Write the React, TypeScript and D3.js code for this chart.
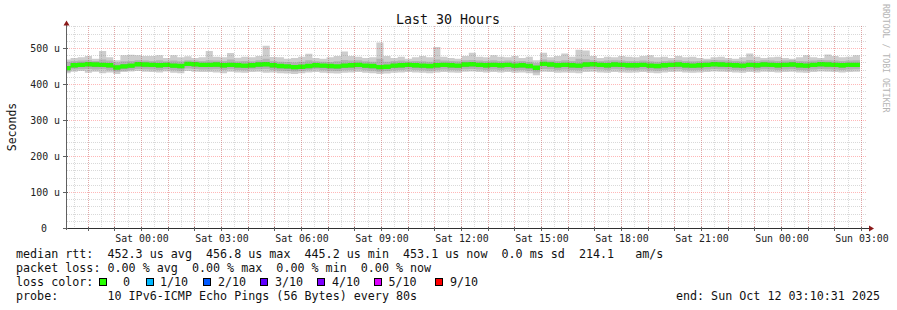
import React from 'react';
import * as d3 from 'd3';

const W = 897;
const H = 310;

// ---- data (microseconds), one value per 16-minute bin ----
const MEDIAN = [
  444, 452, 453, 455, 454, 453, 452, 446, 449, 451, 455, 454, 453, 452, 453, 451, 450, 456, 455, 453,
  453, 454, 452, 453, 452, 451, 452, 454, 455, 452, 450, 449, 447, 448, 450, 452, 451, 450, 449, 451,
  452, 453, 451, 450, 447, 448, 451, 452, 453, 452, 451, 450, 452, 453, 452, 451, 454, 455, 453, 452,
  453, 452, 453, 451, 452, 450, 445, 456, 454, 452, 453, 452, 451, 454, 455, 453, 452, 454, 453, 452,
  452, 453, 451, 450, 452, 453, 454, 452, 451, 452, 453, 455, 454, 453, 452, 451, 453, 452, 454, 453,
  452, 453, 454, 452, 451, 453, 455, 454, 453, 452, 453, 453,
];
const SMOKE_MAX = [
  468, 472, 474, 478, 470, 492, 474, 466, 480, 481, 480, 478, 478, 480, 472, 480, 474, 477, 472, 474,
  492, 476, 474, 486, 473, 476, 474, 478, 506, 475, 474, 470, 472, 476, 484, 472, 470, 474, 478, 490,
  478, 476, 472, 474, 515, 478, 472, 476, 470, 474, 478, 474, 503, 476, 472, 470, 478, 487, 476, 474,
  480, 476, 474, 478, 472, 476, 466, 487, 474, 478, 485, 476, 495, 493, 478, 472, 476, 474, 478, 476,
  474, 478, 480, 474, 476, 472, 478, 474, 476, 472, 470, 474, 476, 472, 470, 474, 485, 476, 472, 474,
  476, 472, 470, 474, 480, 474, 472, 482, 478, 474, 476, 480,
];
const SMOKE_HI = [
  462, 464, 465, 466, 464, 468, 465, 460, 463, 464, 466, 465, 464, 466, 463, 465, 463, 466, 465, 464,
  466, 465, 464, 468, 463, 464, 463, 466, 470, 464, 462, 461, 460, 462, 466, 463, 462, 461, 463, 467,
  465, 466, 463, 462, 470, 462, 464, 465, 463, 464, 463, 462, 468, 465, 464, 463, 466, 467, 465, 464,
  466, 464, 465, 463, 464, 462, 458, 468, 465, 464, 466, 464, 470, 469, 466, 464, 465, 466, 465, 464,
  464, 465, 463, 462, 464, 465, 466, 464, 463, 464, 465, 467, 466, 465, 464, 463, 467, 464, 466, 465,
  464, 465, 466, 464, 463, 465, 467, 466, 465, 464, 465, 466,
];
const INNER_HI = [
  449, 457, 459, 460, 457, 458, 456, 451, 454, 455, 460, 458, 457, 456, 458, 456, 454, 460, 459, 457,
  458, 459, 456, 458, 456, 455, 457, 459, 460, 457, 455, 453, 452, 453, 455, 457, 455, 454, 453, 456,
  457, 458, 455, 454, 452, 453, 456, 457, 458, 456, 455, 455, 457, 458, 457, 455, 459, 460, 458, 457,
  458, 457, 458, 456, 457, 455, 450, 461, 459, 457, 458, 456, 456, 459, 460, 458, 457, 459, 458, 456,
  457, 458, 456, 455, 457, 458, 459, 457, 456, 457, 458, 460, 459, 458, 457, 456, 458, 457, 459, 458,
  457, 458, 459, 457, 456, 458, 460, 459, 458, 457, 458, 458,
];
const INNER_LO = [
  439, 446, 448, 449, 447, 448, 446, 441, 443, 445, 449, 448, 447, 446, 448, 445, 444, 450, 449, 447,
  447, 448, 446, 448, 446, 445, 446, 448, 449, 446, 444, 443, 441, 442, 444, 446, 445, 444, 443, 445,
  446, 447, 445, 444, 441, 442, 445, 446, 447, 446, 445, 444, 446, 447, 446, 445, 448, 449, 447, 446,
  447, 446, 447, 445, 446, 444, 439, 450, 448, 446, 447, 446, 445, 448, 449, 447, 446, 448, 447, 446,
  446, 447, 445, 444, 446, 447, 448, 446, 445, 446, 447, 449, 448, 447, 446, 445, 447, 446, 448, 447,
  446, 447, 448, 446, 445, 447, 449, 448, 447, 446, 447, 447,
];
const SMOKE_LO = [
  434, 440, 441, 442, 440, 441, 438, 434, 437, 439, 442, 441, 440, 439, 441, 438, 437, 443, 442, 440,
  440, 441, 439, 441, 439, 438, 440, 441, 442, 439, 437, 436, 435, 436, 438, 440, 438, 437, 436, 438,
  439, 440, 438, 437, 434, 436, 438, 439, 440, 439, 438, 437, 439, 440, 439, 438, 441, 442, 440, 439,
  440, 439, 440, 438, 439, 437, 432, 442, 441, 439, 440, 439, 438, 441, 442, 440, 439, 441, 440, 439,
  439, 440, 438, 437, 439, 440, 441, 439, 438, 439, 440, 442, 441, 440, 439, 438, 440, 439, 441, 440,
  439, 440, 441, 439, 438, 440, 442, 441, 440, 439, 440, 441,
];
const SMOKE_MIN = [
  430, 434, 436, 431, 434, 430, 432, 428, 433, 435, 436, 434, 433, 432, 435, 431, 430, 436, 434, 433,
  433, 432, 430, 434, 432, 431, 433, 434, 431, 432, 430, 429, 428, 430, 432, 433, 431, 430, 429, 431,
  432, 433, 431, 430, 428, 429, 431, 432, 433, 432, 431, 430, 432, 433, 432, 431, 434, 435, 433, 432,
  433, 432, 433, 431, 432, 430, 424, 434, 433, 431, 432, 431, 430, 433, 434, 432, 431, 433, 432, 431,
  432, 433, 431, 430, 432, 433, 434, 432, 431, 432, 433, 435, 434, 433, 432, 431, 433, 432, 434, 433,
  432, 433, 434, 432, 431, 433, 435, 434, 433, 432, 433, 434,
];

const Y_LABELS = [0, 100, 200, 300, 400, 500];
const LEGEND_RTT = 'median rtt:  452.3 us avg  456.8 us max  445.2 us min  453.1 us now  0.0 ms sd  214.1   am/s';
const LEGEND_LOSS = 'packet loss: 0.00 % avg  0.00 % max  0.00 % min  0.00 % now';
const LOSS_LABELS = ['0', '1/10', '2/10', '3/10', '4/10', '5/10', '9/10'];
const LOSS_COLORS = ['#26ff00', '#00b8ff', '#0059ff', '#5e00ff', '#7e00ff', '#dd00ff', '#ff0000'];
const PROBE = 'probe:       10 IPv6-ICMP Echo Pings (56 Bytes) every 80s';
const END_TEXT = 'end: Sun Oct 12 03:10:31 2025';
const TITLE = 'Last 30 Hours';

// time axis
const BIN_MS = 960 * 1000;
const DATA_START = Date.UTC(2025, 9, 10, 21, 5, 37);
const X_START = Date.UTC(2025, 9, 10, 21, 13, 30);
const X_END = Date.UTC(2025, 9, 12, 3, 13, 30);

const PL = 67, PR = 867, PB = 228;
const FONT = "'DejaVu Sans Mono', monospace";

export default function App() {
  const x = d3.scaleUtc().domain([X_START, X_END]).range([PL, PR]);
  const y = d3.scaleLinear().domain([0, 560]).range([PB, PB - 560 * 0.36]);
  const PT = y(560);

  const n = MEDIAN.length;
  const idx = d3.range(n + 1);
  const tAt = (i: number) => DATA_START + i * BIN_MS;
  const v = (arr: number[], i: number) => arr[Math.min(i, n - 1)];
  const band = (lo: number[], hi: number[]) =>
    d3.area<number>().curve(d3.curveStepAfter)
      .x(i => x(tAt(i)))
      .y0(i => y(v(lo, i)))
      .y1(i => y(v(hi, i)))(idx) || '';
  const medBand = d3.area<number>().curve(d3.curveStepAfter)
    .x(i => x(tAt(i)))
    .y0(i => y(v(MEDIAN, i)) + 2.2)
    .y1(i => y(v(MEDIAN, i)) - 2.2)(idx) || '';

  const minorX = d3.utcMinute.every(30)!.range(new Date(X_START), new Date(X_END));
  const majorX = d3.utcHour.every(1)!.range(new Date(X_START), new Date(X_END));
  const labelX = d3.utcHour.every(3)!.range(new Date(X_START), new Date(X_END));
  const fmt = d3.utcFormat('%a %H:%M');
  const minorY = d3.range(20, 561, 20).filter(t => t % 100 !== 0);
  const majorY = d3.range(100, 561, 100);

  const boxX = [99, 145.5, 203, 260, 317, 374, 435];
  const labX = [123, 160, 218, 275, 332, 388.5, 450];

  return (
    <svg width={W} height={H} style={{ position: 'absolute', left: 0, top: 0, display: 'block', background: '#fff' }}>
      <defs>
        <clipPath id="plot"><rect x={PL} y={PT} width={PR - PL} height={PB - PT} /></clipPath>
      </defs>
      <rect x={0} y={0} width={W} height={H} fill="#fff" />
      <g clipPath="url(#plot)">
        <path d={band(SMOKE_MIN, SMOKE_MAX)} fill="#cdcdcd" />
        <path d={band(SMOKE_LO, SMOKE_HI)} fill="#b2b2b2" />
        <path d={band(INNER_LO, INNER_HI)} fill="#8c8c8c" />
        <path d={medBand} fill={LOSS_COLORS[0]} />
      </g>
      {/* grid */}
      <g shapeRendering="crispEdges" strokeDasharray="1,1">
        {minorX.map((d, i) => (
          <line key={'mx' + i} x1={Math.round(x(d)) + 0.5} x2={Math.round(x(d)) + 0.5} y1={PT} y2={PB} stroke="rgba(128,128,128,0.3)" />
        ))}
        {minorY.map((t, i) => (
          <line key={'my' + i} x1={PL} x2={PR} y1={Math.round(y(t)) + 0.5} y2={Math.round(y(t)) + 0.5} stroke="rgba(128,128,128,0.3)" />
        ))}
        {majorX.map((d, i) => (
          <line key={'Mx' + i} x1={Math.round(x(d)) + 0.5} x2={Math.round(x(d)) + 0.5} y1={PT} y2={PB} stroke="rgba(255,0,0,0.22)" />
        ))}
        {majorY.map((t, i) => (
          <line key={'My' + i} x1={PL} x2={PR} y1={Math.round(y(t)) + 0.5} y2={Math.round(y(t)) + 0.5} stroke="rgba(255,0,0,0.28)" />
        ))}
      </g>
      {/* axes */}
      <g shapeRendering="crispEdges">
        <line x1={PL - 0.5} x2={PL - 0.5} y1={PB + 2} y2={PT - 2} stroke="#606060" />
        <line x1={PL - 4} x2={870} y1={PB + 0.5} y2={PB + 0.5} stroke="#303030" />
        {majorX.map((d, i) => (
          <line key={'tk' + i} x1={Math.round(x(d)) + 0.5} x2={Math.round(x(d)) + 0.5} y1={PB - 1} y2={PB + 3} stroke="#606060" />
        ))}
        {Y_LABELS.map((t, i) => (
          <line key={'ty' + i} x1={PL - 4} x2={PL + 1} y1={Math.round(y(t)) + 0.5} y2={Math.round(y(t)) + 0.5} stroke="#606060" />
        ))}
      </g>
      <path d={`M${PL - 0.5 - 3},${PT - 1} L${PL - 0.5 + 3},${PT - 1} L${PL - 0.5},${PT - 6} Z`} fill="#8b1a1a" />
      <path d={`M869,${PB + 0.5 - 3} L869,${PB + 0.5 + 3} L874,${PB + 0.5} Z`} fill="#8b1a1a" />

      {/* axis labels */}
      <g fontFamily={FONT} fontSize={9.9} fill="#222">
        {Y_LABELS.map((t, i) => (
          <text key={'yl' + i} x={t === 0 ? 47 : 60} y={y(t) + 3.5} textAnchor="end" style={{ whiteSpace: 'pre' }}>
            {t === 0 ? '0' : `${t} u`}
          </text>
        ))}
        {labelX.map((d, i) => (
          <text key={'xl' + i} x={x(d) + 1} y={241.5} textAnchor="middle">{fmt(d)}</text>
        ))}
      </g>

      <text x={448} y={23.5} textAnchor="middle" fontFamily={FONT} fontSize={13.3} fill="#111">{TITLE}</text>
      <text transform="translate(15.5,127) rotate(-90)" textAnchor="middle" fontFamily={FONT} fontSize={11.5} fill="#111">Seconds</text>
      <text transform="translate(883,4) rotate(90)" textAnchor="start" fontFamily={FONT} fontSize={8.2} fill="#b4b4b4">RRDTOOL / TOBI OETIKER</text>

      <g fontFamily={FONT} fontSize={11.7} fill="#111" style={{ whiteSpace: 'pre' }}>
        <text x={16} y={257.5} style={{ whiteSpace: 'pre' }}>{LEGEND_RTT}</text>
        <text x={16} y={271.5} style={{ whiteSpace: 'pre' }}>{LEGEND_LOSS}</text>
        <text x={16} y={285.5}>loss color:</text>
        {LOSS_LABELS.map((l, i) => (
          <g key={'lc' + i}>
            <rect x={boxX[i] + 0.5} y={278.5} width={7} height={7} fill={LOSS_COLORS[i]} stroke="#000" shapeRendering="crispEdges" />
            <text x={labX[i]} y={285.5}>{l}</text>
          </g>
        ))}
        <text x={16} y={299.5} style={{ whiteSpace: 'pre' }}>{PROBE}</text>
        <text x={880} y={299.5} textAnchor="end">{END_TEXT}</text>
      </g>
    </svg>
  );
}
